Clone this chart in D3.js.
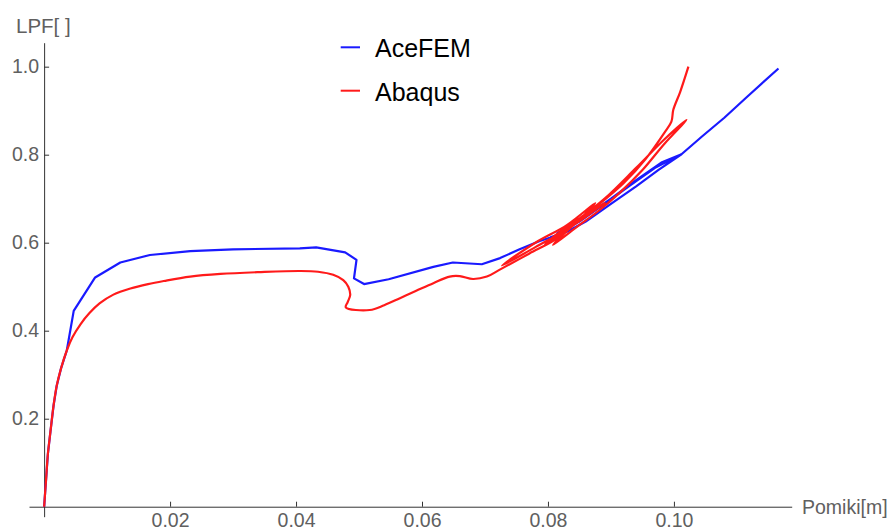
<!DOCTYPE html>
<html>
<head>
<meta charset="utf-8">
<script src="https://cdn.jsdelivr.net/npm/d3@7"></script>
<style>
body { margin: 0; background: #fff; }
svg { display: block; font-family: "Liberation Sans", Arial, sans-serif; }
</style>
</head>
<body>
<svg width="891" height="530"></svg>
<script>

// podatki
let seriesNames = ["AceFEM", "Abaqus"]
let seriesColors = ["#1a1aff", "#ff1a1a"]

let aceFemX = [0, 0.0003, 0.0006, 0.001, 0.0015, 0.002, 0.0027, 0.0036, 0.0047, 0.0081, 0.0121, 0.0168, 0.0232, 0.030, 0.0406, 0.0432,
    0.0478, 0.0496, 0.0492, 0.0508, 0.0547, 0.0618, 0.0649, 0.0695, 0.0724, 0.0755, 0.0787, 0.0824, 0.0805, 0.083,
    0.086, 0.090, 0.094, 0.0975, 0.1012, 0.098, 0.094, 0.090, 0.086, 0.083, 0.0815, 0.085, 0.089, 0.093, 0.097,
    0.1012, 0.1045, 0.108, 0.1115, 0.1166]
let aceFemY = [0, 0.06, 0.12, 0.17, 0.23, 0.275, 0.315, 0.355, 0.445, 0.521, 0.555, 0.572, 0.581, 0.585, 0.587, 0.5895,
    0.578, 0.561, 0.519, 0.506, 0.517, 0.545, 0.555, 0.551, 0.565, 0.585, 0.604, 0.621, 0.613, 0.625,
    0.648, 0.688, 0.728, 0.765, 0.801, 0.782, 0.742, 0.700, 0.660, 0.632, 0.622, 0.648, 0.688, 0.730, 0.770,
    0.801, 0.842, 0.884, 0.930, 0.996]

let abaqusX = [0, 0.0003, 0.0006, 0.001, 0.0015, 0.002, 0.0027, 0.0036, 0.0045, 0.0058, 0.0072, 0.0088, 0.011, 0.0137, 0.0165,
    0.019, 0.0232, 0.028, 0.034, 0.0406, 0.0435, 0.0459, 0.0475, 0.0483, 0.0486, 0.0482, 0.0479, 0.0517, 0.054,
    0.0565, 0.059, 0.0618, 0.0644, 0.066, 0.0681, 0.0703, 0.0725, 0.077, 0.082, 0.0875, 0.083, 0.078, 0.0727,
    0.078, 0.083, 0.089, 0.0845, 0.0808, 0.0845, 0.088, 0.0915, 0.095, 0.0985, 0.1020, 0.0985, 0.094, 0.089,
    0.085, 0.081, 0.0795, 0.083, 0.0875, 0.092, 0.0955, 0.0985, 0.0996, 0.0999, 0.1010, 0.1023]
let abaqusY = [0, 0.06, 0.12, 0.17, 0.23, 0.275, 0.315, 0.355, 0.385, 0.415, 0.44, 0.462, 0.482, 0.496, 0.506,
    0.513, 0.523, 0.529, 0.533, 0.5357, 0.534, 0.527, 0.515, 0.500, 0.481, 0.465, 0.453, 0.447, 0.458,
    0.474, 0.490, 0.508, 0.523, 0.524, 0.5175, 0.523, 0.540, 0.575, 0.615, 0.690, 0.640, 0.600, 0.548,
    0.590, 0.630, 0.690, 0.645, 0.595, 0.635, 0.672, 0.715, 0.765, 0.825, 0.879, 0.835, 0.770, 0.700,
    0.655, 0.615, 0.595, 0.630, 0.680, 0.735, 0.790, 0.850, 0.875, 0.902, 0.943, 1.000]

let xTicks = [0.02, 0.04, 0.06, 0.08, 0.10]
let yTicks = [0.2, 0.4, 0.6, 0.8, 1.0]
let xMinor = d3.range(1, 24).map(i => i * 0.005)
let yMinor = d3.range(1, 22).map(i => i * 0.05)

let svg = d3.select("svg")

// skale (z malo roba okrog kot v Mathematici)
let x = d3.scaleLinear().domain([-0.0024, 0.1187]).range([29, 791.7])
let y = d3.scaleLinear().domain([-0.0227, 1.0545]).range([516.7, 42.7])

// osi
let gx = svg.append("g").attr("transform", `translate(0,${y(0)})`)
gx.call(d3.axisBottom(x).tickValues(xMinor).tickSizeInner(-3).tickSizeOuter(0).tickFormat(""))
gx.call(d3.axisBottom(x).tickValues(xTicks).tickSizeInner(-5).tickSizeOuter(0).tickPadding(6).tickFormat(d3.format(".2f")))

let gy = svg.append("g").attr("transform", `translate(${x(0)},0)`)
gy.call(d3.axisLeft(y).tickValues(yMinor).tickSizeInner(-3).tickSizeOuter(0).tickFormat(""))
gy.call(d3.axisLeft(y).tickValues(yTicks).tickSizeInner(-5).tickSizeOuter(0).tickPadding(5).tickFormat(d3.format(".1f")))

svg.selectAll(".domain").attr("stroke", "#333")
svg.selectAll(".tick line").attr("stroke", "#333")
svg.selectAll(".tick text").attr("fill", "#606060").attr("font-size", 19.5).attr("font-family", "Liberation Sans, Arial, sans-serif")

// naslovi osi
svg.append("text").attr("x", 16).attr("y", 33).attr("fill", "#606060").attr("font-size", 20.5).text("LPF[ ]")
svg.append("text").attr("x", 802).attr("y", 514).attr("fill", "#606060").attr("font-size", 19.5).text("Pomiki[m]")

// krivulje - Abaqus je gladka, AceFEM lomljena
let lineAce = d3.line().x(d => x(d[0])).y(d => y(d[1]))
let lineAbq = d3.line().x(d => x(d[0])).y(d => y(d[1])).curve(d3.curveCatmullRom.alpha(0.5))
let curves = [d3.zip(aceFemX, aceFemY), d3.zip(abaqusX, abaqusY)]
let lines = [lineAce, lineAbq]

curves.forEach((pts, i) => {
    svg.append("path")
        .attr("d", lines[i](pts))
        .attr("fill", "none")
        .attr("stroke", seriesColors[i])
        .attr("stroke-width", 2.2)
        .attr("stroke-linejoin", "round")
})

// legenda
seriesNames.forEach((name, i) => {
    let ly = 47.3 + i * 43.4
    svg.append("line")
        .attr("x1", 340.7).attr("x2", 360).attr("y1", ly).attr("y2", ly)
        .attr("stroke", seriesColors[i]).attr("stroke-width", 2)
    svg.append("text")
        .attr("x", 375).attr("y", ly + 10)
        .attr("font-size", 25).attr("fill", "#000")
        .text(name)
})

</script>
</body>
</html>
